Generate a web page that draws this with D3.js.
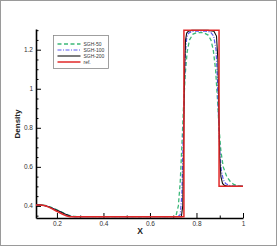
<!DOCTYPE html>
<html>
<head>
<meta charset="utf-8">
<script src="https://cdn.jsdelivr.net/npm/d3@7"></script>
<style>
  body { margin: 0; background: #fff; }
  svg { display: block; }
</style>
</head>
<body>
<div id="chart"></div>
<script>
// data
const refX = [0.11, 0.13, 0.15, 0.165, 0.18, 0.195, 0.21, 0.225, 0.24, 0.255, 0.746, 0.746, 0.897, 0.897, 1.0];
const refY = [0.405, 0.405, 0.401, 0.394, 0.385, 0.375, 0.366, 0.357, 0.349, 0.345, 0.345, 1.3, 1.3, 0.5, 0.5];

const sgh50X = [0.11, 0.13, 0.15, 0.17, 0.19, 0.21, 0.23, 0.25, 0.27, 0.29, 0.70, 0.712, 0.722, 0.73, 0.737, 0.744, 0.752, 0.76, 0.77, 0.785, 0.80, 0.83, 0.85, 0.862, 0.872, 0.882, 0.89, 0.897, 0.905, 0.915, 0.93, 0.945, 0.96, 0.975, 1.0];
const sgh50Y = [0.405, 0.405, 0.402, 0.395, 0.385, 0.374, 0.363, 0.353, 0.347, 0.345, 0.345, 0.35, 0.40, 0.52, 0.70, 0.90, 1.08, 1.19, 1.25, 1.28, 1.287, 1.287, 1.275, 1.25, 1.20, 1.10, 0.95, 0.80, 0.68, 0.60, 0.55, 0.525, 0.51, 0.503, 0.50];

const sgh100X = [0.11, 0.13, 0.15, 0.17, 0.19, 0.21, 0.23, 0.25, 0.265, 0.28, 0.72, 0.73, 0.737, 0.742, 0.747, 0.752, 0.758, 0.766, 0.78, 0.80, 0.84, 0.86, 0.874, 0.884, 0.89, 0.895, 0.9, 0.907, 0.915, 0.925, 0.94, 0.96, 1.0];
const sgh100Y = [0.405, 0.405, 0.401, 0.393, 0.383, 0.372, 0.361, 0.351, 0.346, 0.345, 0.345, 0.355, 0.45, 0.70, 0.98, 1.18, 1.26, 1.285, 1.293, 1.295, 1.295, 1.29, 1.27, 1.20, 1.05, 0.85, 0.68, 0.58, 0.535, 0.515, 0.505, 0.501, 0.50];

const sgh200X = [0.11, 0.13, 0.15, 0.17, 0.19, 0.21, 0.23, 0.25, 0.262, 0.275, 0.735, 0.741, 0.745, 0.749, 0.753, 0.758, 0.765, 0.78, 0.85, 0.875, 0.886, 0.892, 0.896, 0.9, 0.905, 0.912, 0.92, 0.935, 1.0];
const sgh200Y = [0.405, 0.405, 0.401, 0.393, 0.383, 0.372, 0.361, 0.351, 0.346, 0.345, 0.345, 0.40, 0.75, 1.10, 1.25, 1.285, 1.295, 1.299, 1.299, 1.295, 1.27, 1.15, 0.90, 0.65, 0.55, 0.515, 0.505, 0.501, 0.50];

const xTicks = [0.2, 0.4, 0.6, 0.8, 1];
const xMinor = [0.3, 0.5, 0.7, 0.9];
const yTicks = [0.4, 0.6, 0.8, 1, 1.2];
const yMinor = [0.35, 0.45, 0.5, 0.55, 0.65, 0.7, 0.75, 0.85, 0.9, 0.95, 1.05, 1.1, 1.15, 1.25, 1.3];

const seriesNames = ['SGH-50', 'SGH-100', 'SGH-200', 'ref.'];
const seriesColors = ['#3cb878', '#5a5af0', '#111111', '#e02828'];
const seriesDash = ['4,2.5', '4,1.5,1,1.5', null, null];
const seriesWidth = [1.3, 1.2, 1.1, 1.5];

const W = 277, H = 246;
const margin = { top: 29, right: 34, bottom: 28, left: 36 };
const width = W - margin.left - margin.right;
const height = H - margin.top - margin.bottom;

const svg = d3.select('#chart')
  .append('svg')
  .attr('width', W)
  .attr('height', H);

// gray frame
svg.append('rect')
  .attr('x', 0.5).attr('y', 0.5)
  .attr('width', W - 1).attr('height', H - 1)
  .attr('fill', 'none')
  .attr('stroke', '#9a9a9a');

const g = svg.append('g')
  .attr('transform', `translate(${margin.left}, ${margin.top})`);

const x = d3.scaleLinear().domain([0.11, 1]).range([0, width]);
const y = d3.scaleLinear().domain([0.338, 1.306]).range([height, 0]);

const fmt = d => String(+d.toFixed(2));

// minor ticks
g.append('g')
  .attr('transform', `translate(0, ${height})`)
  .call(d3.axisBottom(x).tickValues(xMinor).tickSize(-2.5).tickFormat(''))
  .call(a => a.select('.domain').remove());
g.append('g')
  .call(d3.axisLeft(y).tickValues(yMinor).tickSize(-2.5).tickFormat(''))
  .call(a => a.select('.domain').remove());

// major axes
const xAxis = g.append('g')
  .attr('transform', `translate(0, ${height})`)
  .call(d3.axisBottom(x).tickValues(xTicks).tickSize(-5).tickSizeOuter(0).tickPadding(3).tickFormat(fmt));
const yAxis = g.append('g')
  .call(d3.axisLeft(y).tickValues(yTicks).tickSize(-5).tickSizeOuter(0).tickPadding(3).tickFormat(fmt));

[xAxis, yAxis].forEach(a => {
  a.select('.domain').attr('stroke-width', 1.6);
  a.selectAll('line').attr('stroke-width', 1);
  a.selectAll('text')
    .style('font-family', 'Arial, "Liberation Sans", sans-serif')
    .style('font-size', '6.5px')
    .attr('fill', '#333');
});
g.selectAll('.tick line').attr('stroke', '#000');

// lines, ref drawn last so it sits on top
const seriesData = [
  d3.zip(sgh50X, sgh50Y),
  d3.zip(sgh100X, sgh100Y),
  d3.zip(sgh200X, sgh200Y),
  d3.zip(refX, refY)
];
const line = d3.line().x(d => x(d[0])).y(d => y(d[1]));

seriesData.forEach((data, i) => {
  g.append('path')
    .datum(data)
    .attr('fill', 'none')
    .attr('stroke', seriesColors[i])
    .attr('stroke-width', seriesWidth[i])
    .attr('stroke-dasharray', seriesDash[i])
    .attr('d', line);
});

// axis titles
svg.append('text')
  .attr('transform', 'translate(20, 124) rotate(-90)')
  .attr('text-anchor', 'middle')
  .style('font-family', 'Arial, "Liberation Sans", sans-serif')
  .style('font-size', '8px')
  .style('font-weight', 'bold')
  .attr('fill', '#222')
  .text('Density');

svg.append('text')
  .attr('x', 140)
  .attr('y', 234)
  .attr('text-anchor', 'middle')
  .style('font-family', 'Arial, "Liberation Sans", sans-serif')
  .style('font-size', '8.5px')
  .style('font-weight', 'bold')
  .attr('fill', '#222')
  .text('X');

// legend
const legend = svg.append('g').attr('transform', 'translate(53.5, 35.5)');
legend.append('rect')
  .attr('width', 55).attr('height', 33)
  .attr('fill', '#fff')
  .attr('stroke', '#888')
  .attr('stroke-width', 0.8);
seriesNames.forEach((name, i) => {
  const ly = 8.5 + i * 6;
  legend.append('line')
    .attr('x1', 4).attr('x2', 27)
    .attr('y1', ly).attr('y2', ly)
    .attr('stroke', seriesColors[i])
    .attr('stroke-width', seriesWidth[i])
    .attr('stroke-dasharray', seriesDash[i]);
  legend.append('text')
    .attr('x', 30)
    .attr('y', ly + 1.8)
    .style('font-family', 'Arial, "Liberation Sans", sans-serif')
    .style('font-size', '5px')
    .attr('fill', '#333')
    .text(name);
});
</script>
</body>
</html>
